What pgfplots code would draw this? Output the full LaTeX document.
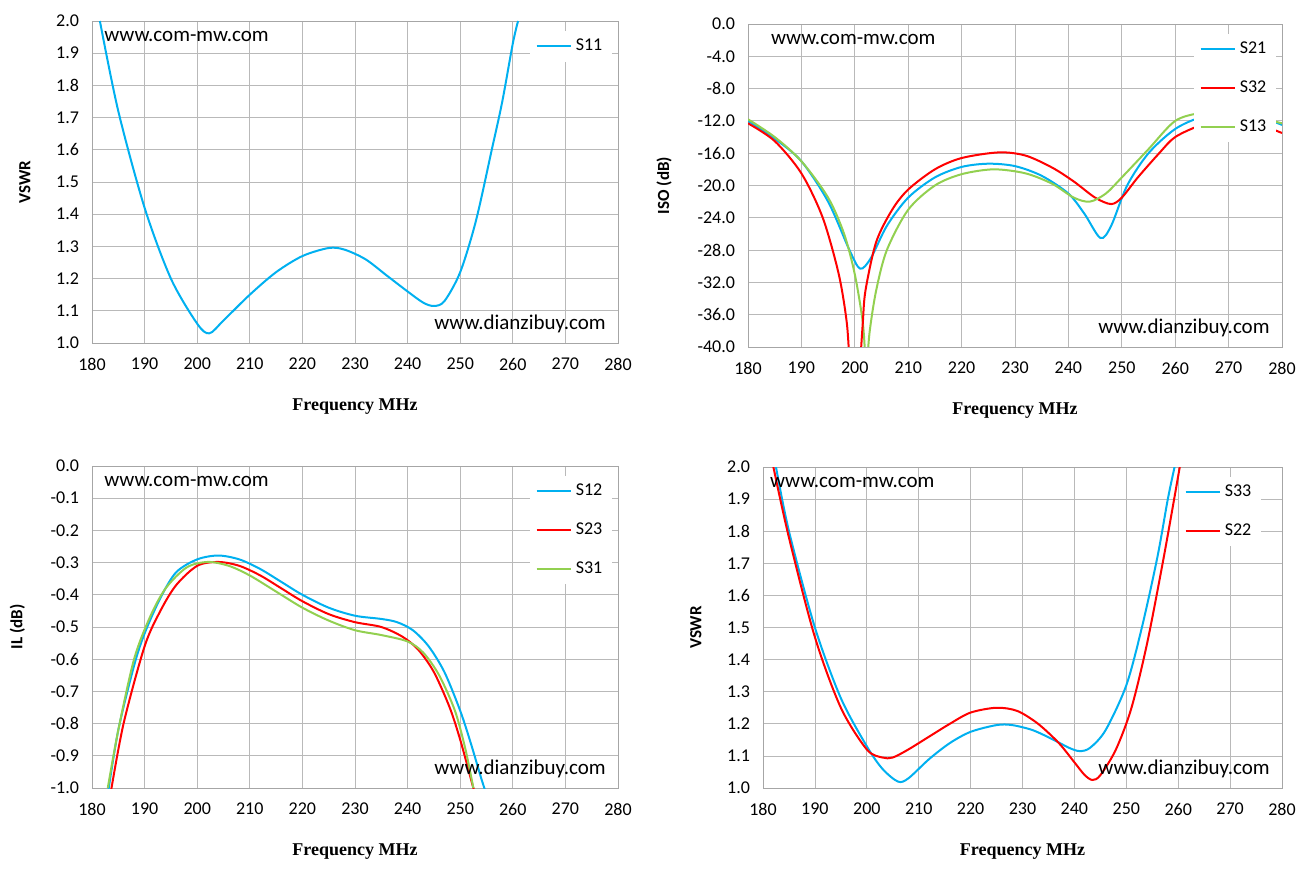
\documentclass[border=0pt]{standalone}
\usepackage{pgfplots}
\pgfplotsset{compat=1.18}
\usepackage{fontspec}
\setmainfont{Carlito}
\newfontfamily\serifb{Liberation Serif}
\definecolor{cb}{RGB}{0,176,240}
\definecolor{cr}{RGB}{255,0,0}
\definecolor{cg}{RGB}{146,208,80}
\pgfplotsset{
 myl/.style={smooth, line width=1pt, mark=none},
 common/.style={scale only axis, xmin=180, xmax=280, xtick distance=10,
  grid=major, grid style={gray!55, line width=0.4pt}, axis line style={gray!70},
  major tick length=0pt, tick label style={font=\fontsize{9}{10}\selectfont},
  xticklabel style={yshift=-4pt}, yticklabel style={xshift=-3pt},
  /pgf/number format/assume math mode=true,
  yticklabel style={/pgf/number format/.cd, fixed, fixed zerofill, precision=1},
  xlabel={\serifb\bfseries Frequency MHz}, xlabel style={font=\fontsize{9}{10}\selectfont, yshift=-7pt},
  ylabel style={font=\bfseries\fontsize{8.5}{9}\selectfont, yshift=6pt},
  legend style={draw=none, fill=white, font=\fontsize{9}{10}\selectfont, at={(0.99,0.97)}, anchor=north east, row sep=6pt},
  legend cell align=left},
}
\newcommand\wm[2]{\node[anchor=north west, font=\fontsize{10.5}{12}\selectfont] at (rel axis cs:#1,0.99) {www.com-mw.com};
\node[anchor=south east, font=\fontsize{10.5}{12}\selectfont] at (rel axis cs:0.99,0.01) {www.dianzibuy.com};}
\begin{document}
\begin{tikzpicture}
\path (0,0) rectangle (656pt,-435.5pt);
% Panel 1
\begin{axis}[common, at={(46pt,-10.5pt)}, anchor=north west, width=263pt, height=161pt,
 ymin=1, ymax=2, ytick distance=0.1, ylabel={VSWR}]
\addplot[cb, myl] coordinates {(181.5,2.0)(185,1.72)(190,1.42)(195,1.2)(200,1.06)(202.3,1.03)(205,1.07)(210,1.15)(215,1.22)(220,1.27)(225,1.295)(228,1.29)(232,1.26)(236,1.21)(240,1.16)(243,1.125)(245,1.115)(247,1.13)(250,1.22)(253,1.38)(256,1.6)(258,1.75)(260,1.93)(261,2.0)};
\addlegendentry{S11}
\wm{0.01}{}
\end{axis}
% Panel 2
\begin{axis}[common, at={(374pt,-12pt)}, anchor=north west, width=267pt, height=161.5pt,
 ymin=-40, ymax=0, ytick distance=4, ylabel={ISO (dB)}, legend style={row sep=8pt}]
\addplot[cb, myl] coordinates {(180,-12)(185,-14.2)(190,-17)(195,-22)(199,-28)(201,-30.3)(203,-29)(206,-25)(210,-21.5)(215,-19)(220,-17.7)(225,-17.3)(230,-17.6)(235,-18.8)(240,-21)(243,-23.5)(246,-26.5)(248,-25)(251,-20)(255,-16)(260,-13)(265,-11.5)(270,-11)(275,-11.3)(280,-12.5)};
\addlegendentry{S21}
\addplot[cr, myl] coordinates {(180,-12.3)(185,-14.5)(190,-18.5)(194,-24)(197,-31)(198.5,-37)(199,-42)};
\addlegendentry{S32}
\addplot[cg, myl] coordinates {(180,-11.8)(185,-14)(190,-17)(195,-21.5)(198,-26)(200,-31)(201.5,-37)(202,-42)};
\addlegendentry{S13}
\addplot[cr, myl, forget plot] coordinates {(201,-42)(201.5,-37)(202,-33)(204,-27)(207,-23)(210,-20.5)(215,-18)(220,-16.6)(227,-15.9)(232,-16.3)(237,-17.8)(241,-19.5)(245,-21.5)(248,-22.3)(250,-21.5)(253,-19)(257,-16)(260,-14)(265,-12.5)(270,-12)(275,-12.3)(280,-13.5)};
\addplot[cg, myl, forget plot] coordinates {(202.3,-42)(202.8,-38)(204,-33)(206,-28)(210,-23)(215,-20)(220,-18.6)(226,-18)(232,-18.5)(237,-19.8)(241,-21.5)(244,-22)(247,-21)(250,-19)(255,-15.5)(260,-12)(265,-11)(270,-11)(275,-11.5)(280,-12.3)};
\wm{0.03}{}
\end{axis}
% Panel 3
\begin{axis}[common, at={(46pt,-233pt)}, anchor=north west, width=263pt, height=161pt,
 ymin=-1, ymax=0, ytick distance=0.1, ylabel={IL (dB)}, legend style={row sep=8pt}]
\addplot[cb, myl] coordinates {(183,-1.02)(185,-0.82)(188,-0.62)(190,-0.52)(193,-0.41)(196,-0.33)(200,-0.29)(204,-0.278)(208,-0.29)(212,-0.32)(216,-0.36)(220,-0.40)(225,-0.44)(230,-0.465)(235,-0.475)(238,-0.485)(241,-0.51)(244,-0.56)(247,-0.64)(250,-0.76)(252,-0.86)(254,-0.97)(255,-1.02)};
\addlegendentry{S12}
\addplot[cr, myl] coordinates {(183.5,-1.02)(186,-0.8)(190,-0.56)(193,-0.45)(196,-0.37)(200,-0.31)(204,-0.298)(208,-0.31)(212,-0.34)(216,-0.38)(220,-0.42)(225,-0.46)(230,-0.485)(235,-0.5)(239,-0.53)(242,-0.57)(245,-0.64)(248,-0.75)(250,-0.85)(252,-0.97)(253,-1.03)};
\addlegendentry{S23}
\addplot[cg, myl] coordinates {(183,-1.0)(185,-0.82)(188,-0.6)(191,-0.47)(194,-0.38)(198,-0.315)(202,-0.298)(206,-0.31)(210,-0.34)(215,-0.39)(220,-0.44)(225,-0.48)(230,-0.51)(235,-0.525)(240,-0.545)(243,-0.58)(246,-0.65)(249,-0.76)(251,-0.88)(252.5,-1.0)};
\addlegendentry{S31}
\wm{0.01}{}
\end{axis}
% Panel 4
\begin{axis}[common, at={(381.5pt,-233.5pt)}, anchor=north west, width=259.5pt, height=160.5pt,
 ymin=1, ymax=2, ytick distance=0.1, ylabel={VSWR}, legend style={at={(0.8,0.97)}, anchor=north west, row sep=8pt}]
\addplot[cb, myl] coordinates {(182.5,2.0)(185,1.8)(190,1.5)(195,1.28)(200,1.13)(203,1.06)(206,1.02)(208,1.03)(212,1.09)(216,1.14)(220,1.175)(225,1.196)(228,1.196)(232,1.18)(236,1.15)(239,1.125)(241,1.115)(243,1.125)(246,1.18)(250,1.32)(253,1.5)(256,1.72)(258,1.9)(259.3,2.0)};
\addlegendentry{S33}
\addplot[cr, myl] coordinates {(182,2.0)(185,1.78)(190,1.47)(195,1.25)(200,1.12)(203,1.095)(205,1.095)(208,1.12)(212,1.16)(216,1.2)(220,1.235)(225,1.25)(229,1.24)(233,1.2)(237,1.14)(240,1.08)(242,1.04)(243.5,1.025)(245,1.04)(248,1.12)(251,1.25)(254,1.45)(257,1.7)(259,1.88)(260.3,2.0)};
\addlegendentry{S22}
\wm{0.0}{}
\end{axis}
\end{tikzpicture}
\end{document}
